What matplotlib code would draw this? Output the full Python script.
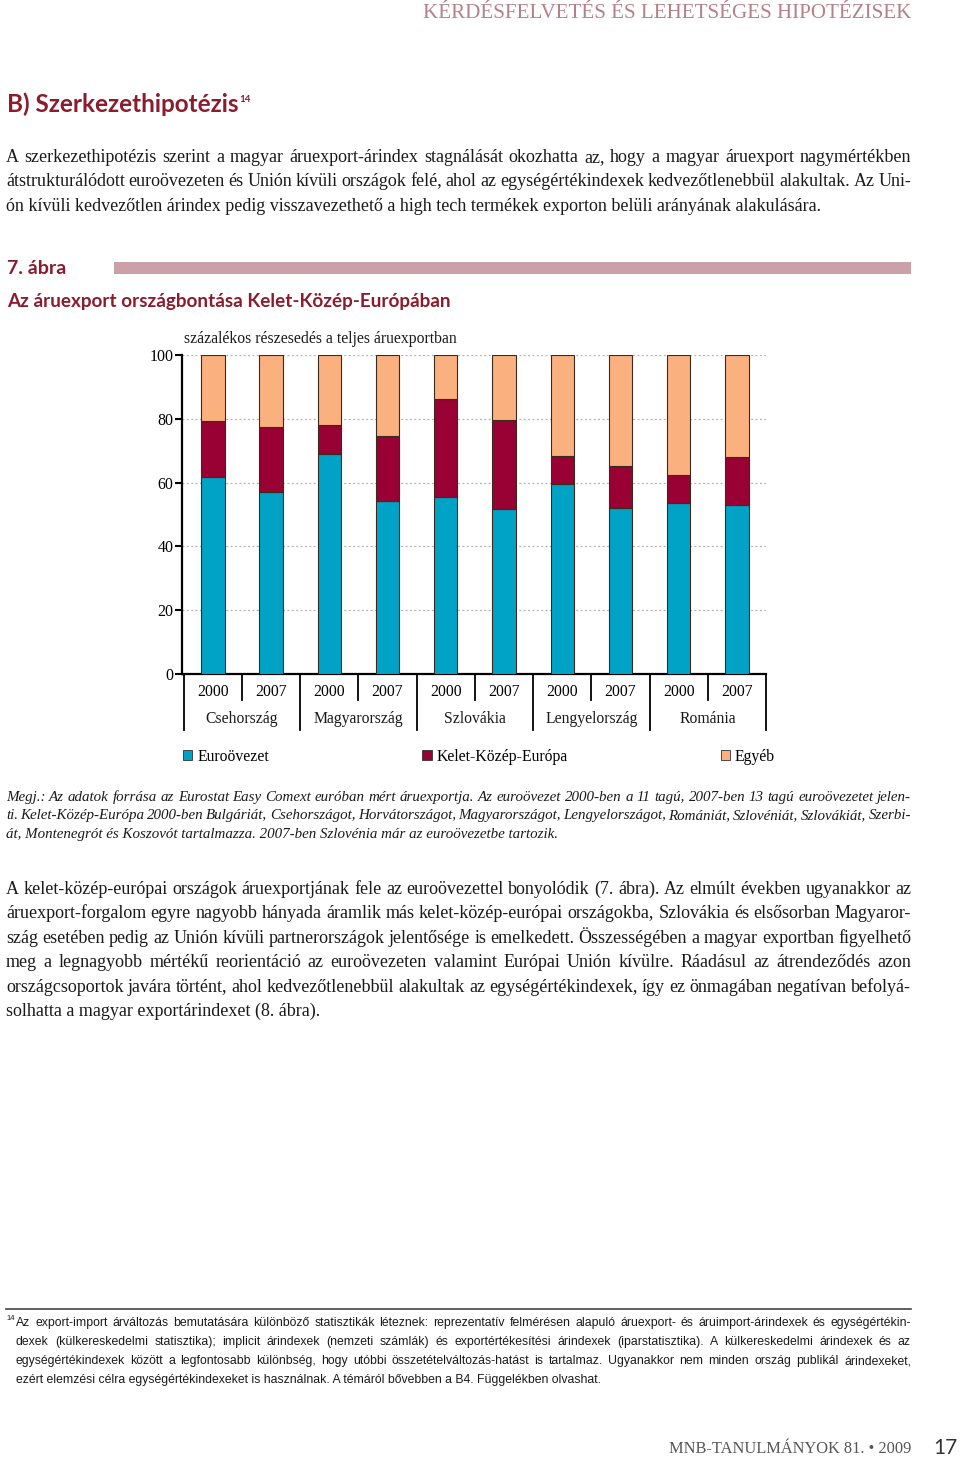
import numpy as np
import matplotlib
matplotlib.use('Agg')
import matplotlib.pyplot as plt
from matplotlib.patches import Patch, Rectangle
import matplotlib.transforms as mtransforms

# data
countries = ['Csehország', 'Magyarország', 'Szlovákia', 'Lengyelország', 'Románia']
years = ['2000', '2007']
euro = [61.8, 57.0, 69.1, 54.3, 55.5, 51.6, 59.6, 52.0, 53.7, 53.1]
kke = [17.4, 20.3, 8.9, 20.2, 30.7, 28.0, 8.6, 13.2, 8.6, 14.8]
egyeb = [20.8, 22.7, 22.0, 25.5, 13.8, 20.4, 31.8, 34.8, 37.7, 32.1]
series_names = ['Euroövezet', 'Kelet-Közép-Európa', 'Egyéb']
yticks = [0, 20, 40, 60, 80, 100]

col_euro = '#00a3c6'
col_kke = '#990033'
col_egy = '#fbb07f'
dark_red = '#8b1c2d'

W, H = 960, 1458
fig = plt.figure(figsize=(W / 100, H / 100), dpi=100)
renderer = fig.canvas.get_renderer()

SERIF = ['Liberation Serif', 'DejaVu Serif']
SANS = ['Lato', 'DejaVu Sans']
NARROW = ['Liberation Sans Narrow', 'Liberation Sans', 'DejaVu Sans']


def fy(y):
    return 1 - y / H


def put_line(x0, x1, y, s, justify=True, fontsize=12, **kw):
    # one line of page text, optionally stretched to x1 like the print
    # y is the visual middle of the line; words sit on a common baseline
    yb = fy(y + 0.33 * fontsize * 100 / 72)
    words = s.split(' ')
    if not justify or len(words) == 1:
        return fig.text(x0 / W, yb, s, va='baseline', fontsize=fontsize, **kw)
    objs = [fig.text(0, 0, w, va='baseline', fontsize=fontsize, **kw) for w in words]
    widths = [o.get_window_extent(renderer).width for o in objs]
    gap = (x1 - x0 - sum(widths)) / (len(words) - 1)
    x = x0
    for o, w in zip(objs, widths):
        o.set_position((x / W, yb))
        x += w + gap
    return objs


def paragraph(lines, x0, x1, y0, dy, **kw):
    for i, s in enumerate(lines):
        put_line(x0, x1, y0 + i * dy, s, justify=(i < len(lines) - 1), **kw)


# header
fig.text(911 / W, fy(14), 'KÉRDÉSFELVETÉS ÉS LEHETSÉGES HIPOTÉZISEK', ha='right', va='center',
         family=SERIF, fontsize=15.1, color='#b5808a')

# section title
t = fig.text(7 / W, fy(104), 'B) Szerkezethipotézis', va='center', family=SANS,
             fontsize=17.5, fontweight='bold', color=dark_red)
bb = t.get_window_extent(renderer)
fig.text((bb.x1 + 1) / W, fy(99), '14', va='center', family=SANS, fontsize=7,
         fontweight='bold', color=dark_red)

para1 = [
    'A szerkezethipotézis szerint a magyar áruexport-árindex stagnálását okozhatta az, hogy a magyar áruexport nagymértékben',
    'átstrukturálódott euroövezeten és Unión kívüli országok felé, ahol az egységértékindexek kedvezőtlenebbül alakultak. Az Uni-',
    'ón kívüli kedvezőtlen árindex pedig visszavezethető a high tech termékek exporton belüli arányának alakulására.',
]
paragraph(para1, 6, 911, 156, 24.5, family=SERIF, fontsize=13.0, color='#1a1a1a')

# figure caption
fig.text(7 / W, fy(268), '7. ábra', va='center', family=SANS, fontsize=14,
         fontweight='bold', color=dark_red)
fig.patches.append(Rectangle((114 / W, fy(274)), (911 - 114) / W, 12 / H,
                             transform=fig.transFigure, color='#c9a1a7', lw=0))
fig.text(7 / W, fy(301), 'Az áruexport országbontása Kelet-Közép-Európában', va='center',
         family=SANS, fontsize=13.6, fontweight='bold', color=dark_red)
fig.text(184 / W, fy(339), 'százalékos részesedés a teljes áruexportban', va='center',
         family=SERIF, fontsize=11.3, color='#1a1a1a')

# chart
ax = fig.add_axes([182 / W, 1 - 674 / H, (766 - 182) / W, (674 - 355) / H])
x = np.arange(len(euro))
bw = 0.4
ek = dict(edgecolor='#3a2a20', linewidth=0.8, zorder=3)
ax.bar(x, euro, bw, color=col_euro, label=series_names[0], **ek)
ax.bar(x, kke, bw, bottom=euro, color=col_kke, label=series_names[1], **ek)
ax.bar(x, egyeb, bw, bottom=np.add(euro, kke), color=col_egy, label=series_names[2], **ek)

ax.set_xlim(-0.53, 9.5)
ax.set_ylim(0, 100)
ax.set_yticks(yticks)
ax.set_yticklabels([str(v) for v in yticks], family=SERIF, fontsize=11.5)
ax.tick_params(axis='y', direction='out', length=5, width=1.5, pad=1)
for v in yticks[1:]:
    ax.axhline(v, color='#b0b0b0', lw=0.9, ls=(0, (1.5, 2)), zorder=1)

ax.set_xticks(x)
ax.set_xticklabels(years * len(countries), family=SERIF, fontsize=11.3)
ax.tick_params(axis='x', length=0, pad=7.5)

for s in ['top', 'right']:
    ax.spines[s].set_visible(False)
ax.spines['left'].set_linewidth(1.6)
ax.spines['bottom'].set_linewidth(1.6)

trans = mtransforms.blended_transform_factory(ax.transData, ax.transAxes)
for g in range(len(countries)):
    c = 2 * g + 0.5
    ax.text(c, -0.141, countries[g], transform=trans, ha='center', va='center',
            family=SERIF, fontsize=11.3, color='#1a1a1a')
    ax.plot([c, c], [0, -0.082], transform=trans, color='black', lw=1.3, clip_on=False)
for b in np.arange(-0.5, len(euro), 2):
    ax.plot([b, b], [0, -0.176], transform=trans, color='black', lw=1.3, clip_on=False)

handles = [Patch(facecolor=c, edgecolor='#333333', lw=0.6) for c in (col_euro, col_kke, col_egy)]
fig.legend(handles, series_names, loc='center', ncol=3, mode='expand',
           bbox_to_anchor=(183 / W, fy(766), (775 - 183) / W, 18 / H),
           frameon=False, handlelength=0.6, handleheight=0.6, handletextpad=0.3,
           borderpad=0, borderaxespad=0, prop={'family': SERIF, 'size': 11.3})

megj = [
    'Megj.: Az adatok forrása az Eurostat Easy Comext euróban mért áruexportja. Az euroövezet 2000-ben a 11 tagú, 2007-ben 13 tagú euroövezetet jelen-',
    'ti. Kelet-Közép-Európa 2000-ben Bulgáriát, Csehországot, Horvátországot, Magyarországot, Lengyelországot, Romániát, Szlovéniát, Szlovákiát, Szerbi-',
    'át, Montenegrót és Koszovót tartalmazza. 2007-ben Szlovénia már az euroövezetbe tartozik.',
]
paragraph(megj, 6, 911, 796, 18.5, family=SERIF, fontsize=10.8, style='italic', color='#1a1a1a')

para2 = [
    'A kelet-közép-európai országok áruexportjának fele az euroövezettel bonyolódik (7. ábra). Az elmúlt években ugyanakkor az',
    'áruexport-forgalom egyre nagyobb hányada áramlik más kelet-közép-európai országokba, Szlovákia és elsősorban Magyaror-',
    'szág esetében pedig az Unión kívüli partnerországok jelentősége is emelkedett. Összességében a magyar exportban figyelhető',
    'meg a legnagyobb mértékű reorientáció az euroövezeten valamint Európai Unión kívülre. Ráadásul az átrendeződés azon',
    'országcsoportok javára történt, ahol kedvezőtlenebbül alakultak az egységértékindexek, így ez önmagában negatívan befolyá-',
    'solhatta a magyar exportárindexet (8. ábra).',
]
paragraph(para2, 6, 911, 888, 24.4, family=SERIF, fontsize=13.0, color='#1a1a1a')

# footnote
fig.add_artist(plt.Line2D([6 / W, 911 / W], [fy(1309), fy(1309)], color='#444444', lw=1.2))
fig.text(6 / W, fy(1318), '14', va='center', family=NARROW, fontsize=5.5, color='#1a1a1a')
foot = [
    'Az export-import árváltozás bemutatására különböző statisztikák léteznek: reprezentatív felmérésen alapuló áruexport- és áruimport-árindexek és egységértékin-',
    'dexek (külkereskedelmi statisztika); implicit árindexek (nemzeti számlák) és exportértékesítési árindexek (iparstatisztika). A külkereskedelmi árindexek és az',
    'egységértékindexek között a legfontosabb különbség, hogy utóbbi összetételváltozás-hatást is tartalmaz. Ugyanakkor nem minden ország publikál árindexeket,',
    'ezért elemzési célra egységértékindexeket is használnak. A témáról bővebben a B4. Függelékben olvashat.',
]
paragraph(foot, 16, 911, 1322, 19, family=NARROW, fontsize=8.8, color='#1a1a1a')

# page footer
fig.text(911 / W, fy(1449), 'MNB-TANULMÁNYOK 81. • 2009', ha='right', va='center',
         family=SERIF, fontsize=11.8, color='#555555')
fig.text(958 / W, fy(1448), '17', ha='right', va='center', family=SANS, fontsize=15,
         color='#333333')

fig.savefig('out.png', dpi=100)
